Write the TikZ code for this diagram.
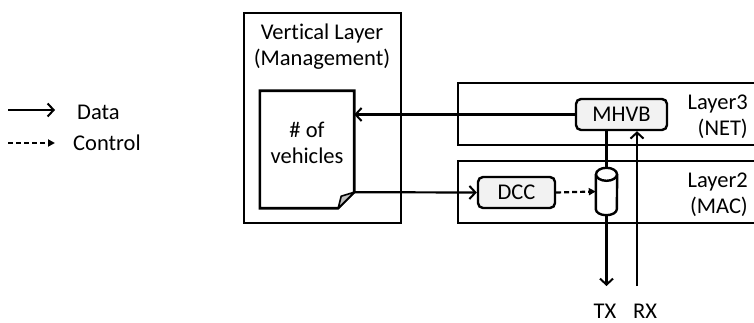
\documentclass[tikz,border=0pt]{standalone}
\usepackage{fontspec}
\setmainfont{Carlito}[Ligatures=NoCommon]
\usetikzlibrary{arrows.meta,calc}
\tikzset{
  txt/.style={font=\fontsize{22.5pt}{26pt}\selectfont, inner sep=0pt},
  frame/.style={draw, line width=2.6pt},
  procbox/.style={draw, line width=2.4pt, rounded corners=5pt, fill=black!5, inner sep=0pt},
  dataarrow/.style={line width=2.2pt, -{Straight Barb[length=6pt,width=13pt,line width=2pt]}},
  ctrlarrow/.style={line width=2.2pt, dash pattern=on 5pt off 3pt, -{Triangle[length=7pt,width=7pt]}},
  plainline/.style={line width=2.2pt},
}
\begin{document}
\begin{tikzpicture}[x=1pt,y=-1pt]
\useasboundingbox (0,0) rectangle (754,323);
\clip (0,0) rectangle (754,323);
% legend
\coordinate (lda) at (8,110);
\coordinate (ldb) at (55,110);
\coordinate (lca) at (8,143);
\coordinate (lcb) at (55,143);
\draw[dataarrow] (lda) -- (ldb);
\draw[ctrlarrow] (lca) -- (lcb);
\node[txt, anchor=base west] (ldata) at (77,120) {Data};
\node[txt, anchor=base west] (lctrl) at (73,150) {Control};
% vertical layer
\draw[frame] (244,13) rectangle (401,223);
\node[txt, align=center] (vl) at (322,47) {Vertical Layer\\(Management)};
% document
\node[minimum width=94pt, minimum height=117pt, inner sep=0pt] (doc) at (307,149.5) {};
\coordinate (fold) at ($(doc.south east)+(0,-16)$);
\coordinate (foldb) at ($(doc.south east)+(-16,0)$);
\draw[frame, line join=miter] (doc.north west) -- (doc.north east) -- (fold) -- (foldb) -- (doc.south west) -- cycle;
\draw[line width=1.6pt, fill=black!25, line join=round] (foldb) -- ($(doc.south east)+(-13,-12)$) -- (fold) -- cycle;
\node[txt, align=center] (doctext) at (307,143) {\# of\\vehicles};
% layers
\draw[frame] (458,83) rectangle (770,145);
\draw[frame] (458,161) rectangle (770,223);
\node[txt, align=right, anchor=east] (l3) at (748,117) {Layer3\\(NET)};
\node[txt, align=right, anchor=east] (l2) at (748,195) {Layer2\\(MAC)};
% boxes
\node[procbox, txt, minimum width=91pt, minimum height=31pt] (mhvb) at (621.5,114.5) {MHVB};
\node[procbox, txt, minimum width=77pt, minimum height=31pt] (dcc) at (516.5,192.5) {DCC};
% cylinder
\node[minimum width=21pt, minimum height=47pt, inner sep=0pt] (cyl) at (606.5,191.5) {};
\draw[line width=2.4pt, fill=white] ($(cyl.north west)+(0,6.5)$) -- ($(cyl.south west)+(0,-6)$)
   arc[start angle=180, end angle=360, x radius=10.5pt, y radius=6pt] -- ($(cyl.north east)+(0,6.5)$);
\draw[line width=2.4pt, fill=white] ($(cyl.north)+(0,6.5)$) ellipse [x radius=10.5pt, y radius=6.5pt];
% connectors
\draw[dataarrow] (mhvb.west) -- (mhvb.west -| doc.east);
\draw[dataarrow] (fold) -- (dcc.west);
\draw[ctrlarrow] (dcc.east) -- (cyl.west);
\draw[plainline] (cyl.north |- mhvb.south) -- (cyl.north);
\coordinate (tx) at (606.5,286);
\coordinate (rx) at (637,286);
\draw[dataarrow] (cyl.south) -- (tx);
\draw[dataarrow] (rx) -- (rx |- mhvb.south);
\node[txt] (txl) at (605,311) {TX};
\node[txt] (rxl) at (645,311) {RX};
\end{tikzpicture}
\end{document}
